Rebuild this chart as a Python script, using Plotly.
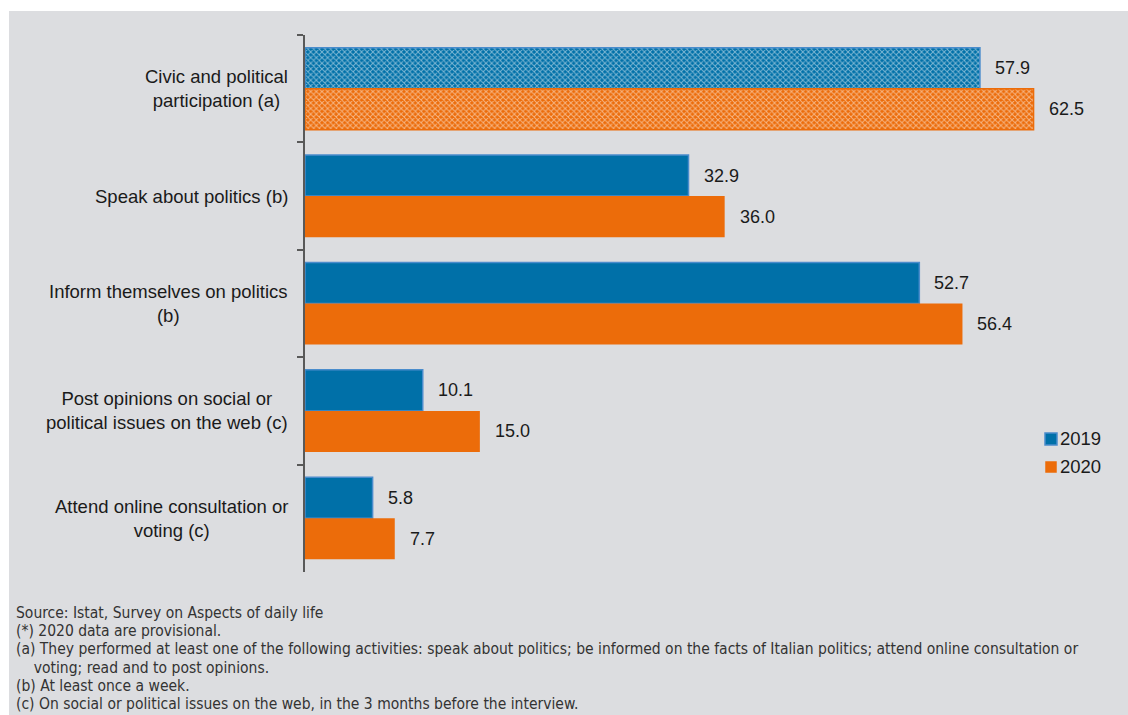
import plotly.graph_objects as go

categories = [
    "Civic and political<br>participation (a)",
    "Speak about politics (b)",
    "Inform themselves on politics<br>(b)",
    "Post opinions on social or<br>political issues on the web (c)",
    "Attend online consultation or<br>voting (c)",
]
values_2019 = [57.9, 32.9, 52.7, 10.1, 5.8]
values_2020 = [62.5, 36.0, 56.4, 15.0, 7.7]
series_names = ["2019", "2020"]

footnotes = [
    "Source: Istat, Survey on Aspects of daily life",
    "(*) 2020 data are provisional.",
    "(a) They performed at least one of the following activities: speak about politics; be informed on the facts of Italian politics; attend online consultation or",
    "    voting; read and to post opinions.",
    "(b) At least once a week.",
    "(c) On social or political issues on the web, in the 3 months before the interview.",
]

BLUE = "#0070a8"
BLUE_EDGE = "#4a8ccc"
ORANGE = "#ec6c0a"
BG = "#dcdde0"
TXT = "#1a1a1a"
FONT = "Liberation Sans, Arial, sans-serif"
NARROW = "DejaVu Sans Condensed, Liberation Sans Narrow, Arial Narrow, sans-serif"

W, H = 1128, 715
L, R, T, B = 305, 7, 35, 143
PW, PH = W - L - R, H - T - B


def px_x(x):
    return (x - L) / PW


def px_y(y):
    return (H - B - y) / PH


fig = go.Figure()

ids = list(range(len(categories)))
checker = dict(shape="x", size=4, solidity=0.42, fgcolor="white", fillmode="overlay")

# first category drawn with a fine checker pattern, others solid
fig.add_trace(go.Bar(
    y=ids[:1], x=values_2019[:1], orientation="h", offsetgroup="a",
    marker=dict(color=BLUE, line=dict(color=BLUE_EDGE, width=1.5), pattern=checker),
    showlegend=False, hoverinfo="skip"))
fig.add_trace(go.Bar(
    y=ids[:1], x=values_2020[:1], orientation="h", offsetgroup="b",
    marker=dict(color=ORANGE, line=dict(color=ORANGE, width=1.5), pattern=checker),
    showlegend=False, hoverinfo="skip"))
fig.add_trace(go.Bar(
    y=ids[1:], x=values_2019[1:], orientation="h", offsetgroup="a", name=series_names[0],
    marker=dict(color=BLUE, line=dict(color=BLUE_EDGE, width=1.5)), showlegend=False))
fig.add_trace(go.Bar(
    y=ids[1:], x=values_2020[1:], orientation="h", offsetgroup="b", name=series_names[1],
    marker=dict(color=ORANGE, line=dict(width=0)), showlegend=False))

annotations = []
half = PH / len(categories) * (1 - 0.236) / 4
for i, (v1, v2) in enumerate(zip(values_2019, values_2020)):
    for v, dy in ((v1, half), (v2, -half)):
        annotations.append(dict(x=v, y=i, xref="x", yref="y", text=f"{v:.1f}",
                                showarrow=False, xanchor="left", yanchor="middle",
                                xshift=13, yshift=dy,
                                font=dict(family=FONT, size=18, color=TXT)))
    annotations.append(dict(x=px_x(288), y=i, xref="paper", yref="y", text=categories[i],
                            showarrow=False, xanchor="right", yanchor="middle", align="center",
                            xshift=2,
                            font=dict(family=FONT, size=18.5, color=TXT)))

# footnotes, one line each
foot_y = [613, 631.2, 649.4, 667.6, 685.8, 704]
for text, yy in zip(footnotes, foot_y):
    annotations.append(dict(x=px_x(15), y=px_y(yy), xref="paper", yref="paper",
                            text=text.replace(" ", "&nbsp;") if text.startswith(" ") else text,
                            showarrow=False, borderpad=0,
                            xanchor="left", yanchor="middle", align="left",
                            font=dict(family=NARROW, size=15.5, color="#333333")))

# legend: coloured keys with year labels
legend_keys = [
    (series_names[0], BLUE, BLUE_EDGE, 1045, 433, 1057, 445, 438),
    (series_names[1], ORANGE, ORANGE, 1046, 462, 1056, 472, 466),
]
shapes = []
for name, fill, edge, x0, y0, x1, y1, ty in legend_keys:
    shapes.append(dict(type="rect", xref="paper", yref="paper",
                       x0=px_x(x0), x1=px_x(x1), y0=px_y(y1), y1=px_y(y0),
                       fillcolor=fill, line=dict(color=edge, width=1.5)))
    annotations.append(dict(x=px_x(1058), y=px_y(ty), xref="paper", yref="paper", text=name,
                            showarrow=False, xanchor="left", yanchor="middle",
                            font=dict(family=FONT, size=18.5, color=TXT)))

shapes += [
    dict(type="rect", xref="paper", yref="paper", x0=px_x(0), x1=px_x(W), y0=px_y(11), y1=px_y(0),
         fillcolor="white", line=dict(width=0), layer="above"),
    dict(type="rect", xref="paper", yref="paper", x0=px_x(0), x1=px_x(9), y0=px_y(H), y1=px_y(0),
         fillcolor="white", line=dict(width=0), layer="above"),
]

fig.update_layout(
    width=W, height=H,
    margin=dict(l=L, r=R, t=T, b=B, pad=0),
    paper_bgcolor=BG, plot_bgcolor=BG,
    barmode="group", bargap=0.236, bargroupgap=0,
    xaxis=dict(range=[0, 70], visible=False, fixedrange=True),
    yaxis=dict(type="category", range=[len(categories) - 0.5, -0.5], tickson="boundaries",
               ticks="outside", ticklen=6, tickwidth=1.5, tickcolor="#595959",
               showticklabels=False, showgrid=False, zeroline=False,
               showline=True, linecolor="#595959", linewidth=2, fixedrange=True),
    annotations=annotations,
    shapes=shapes,
    showlegend=False,
)

fig.write_html("out.html")
